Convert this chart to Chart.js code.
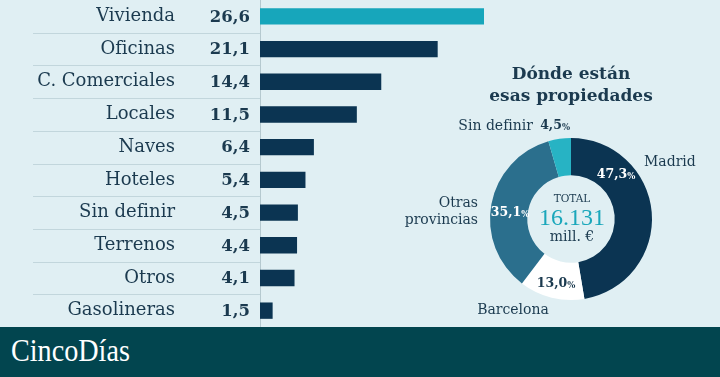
<!DOCTYPE html>
<html lang="es">
<head>
<meta charset="utf-8">
<script src="https://cdn.jsdelivr.net/npm/chart.js@4.4.1/dist/chart.umd.min.js"></script>
<style>
  html, body { margin: 0; padding: 0; }
  body { width: 720px; height: 377px; background: #e0eff3; position: relative; overflow: hidden; }
  #barras { position: absolute; left: 0; top: 0; }
  #tarta { position: absolute; left: 380px; top: 50px; }
  #pie { position: absolute; left: 0; top: 327px; width: 720px; height: 50px; background: #02454f; }
  #pie span { position: absolute; left: 11px; top: 5px; font-family: "Liberation Serif", serif; font-size: 32px;
              color: #fff; transform: scaleX(0.88); transform-origin: left center; white-space: nowrap; }
</style>
</head>
<body>
<canvas id="barras" width="500" height="327"></canvas>
<canvas id="tarta" width="340" height="277"></canvas>
<div id="pie"><span>CincoDías</span></div>
<script>
// Inversión por tipo de activo (millones de euros / %)
const categorias = ['Vivienda', 'Oficinas', 'C. Comerciales', 'Locales', 'Naves', 'Hoteles',
                    'Sin definir', 'Terrenos', 'Otros', 'Gasolineras'];
const valores = [26.6, 21.1, 14.4, 11.5, 6.4, 5.4, 4.5, 4.4, 4.1, 1.5];

// Reparto geográfico
const zonas = ['Madrid', 'Barcelona', 'Otras provincias', 'Sin definir'];
const porcentajes = [47.3, 13.0, 35.1, 4.5];
const total = '16.131';

const oscuro = '#1b3a4f';
const coma = v => v.toFixed(1).replace('.', ',');

Chart.defaults.font.family = '"DejaVu Serif", serif';
Chart.defaults.color = oscuro;

// lineas separadoras entre filas
const separadores = {
  id: 'separadores',
  beforeDatasetsDraw(chart) {
    const y = chart.scales.y;
    const ctx = chart.ctx;
    ctx.save();
    ctx.strokeStyle = '#c2d6dc';
    ctx.lineWidth = 1;
    for (let i = 0; i < categorias.length - 1; i++) {
      const py = Math.round((y.getPixelForValue(i) + y.getPixelForValue(i + 1)) / 2) + 0.5;
      ctx.beginPath();
      ctx.moveTo(33, py);
      ctx.lineTo(y.right, py);
      ctx.stroke();
    }
    ctx.restore();
  }
};

// cifras en negrita junto al eje
const cifras = {
  id: 'cifras',
  afterDatasetsDraw(chart) {
    const ctx = chart.ctx;
    const y = chart.scales.y;
    ctx.save();
    ctx.font = 'bold 16.5px "DejaVu Serif"';
    ctx.fillStyle = oscuro;
    ctx.textAlign = 'right';
    ctx.textBaseline = 'middle';
    chart.getDatasetMeta(0).data.forEach((bar, i) => {
      ctx.fillText(coma(valores[i]), y.right - 10, bar.y + 1);
    });
    ctx.restore();
  }
};

new Chart(document.getElementById('barras'), {
  type: 'bar',
  data: {
    labels: categorias,
    datasets: [{
      data: valores,
      backgroundColor: valores.map((v, i) => i === 0 ? '#17a6bb' : '#0b3452'),
      borderWidth: 0,
      barPercentage: 0.5,
      categoryPercentage: 1
    }]
  },
  options: {
    responsive: false,
    animation: false,
    indexAxis: 'y',
    layout: { padding: 0 },
    plugins: { legend: { display: false }, tooltip: { enabled: false } },
    scales: {
      x: { display: false, min: 0, max: 28.5 },
      y: {
        afterFit(s) { s.width = 260; s.paddingTop = 0; s.paddingBottom = 0; },
        grid: { display: false, drawTicks: false },
        border: { display: true, color: '#b5c9cf', width: 1 },
        ticks: { autoSkip: false, padding: 85, color: oscuro, font: { size: 18 } }
      }
    }
  },
  plugins: [separadores, cifras]
});

// textos del donut
const textosDonut = {
  id: 'textosDonut',
  afterDraw(chart) {
    const ctx = chart.ctx;
    const arc = chart.getDatasetMeta(0).data[0];
    const cx = arc.x, cy = arc.y;
    ctx.save();
    ctx.textBaseline = 'middle';
    ctx.fillStyle = oscuro;

    // titulo
    ctx.textAlign = 'center';
    ctx.font = 'bold 17px "DejaVu Serif"';
    ctx.fillText('Dónde están', cx, cy - 144);
    ctx.fillText('esas propiedades', cx, cy - 122);

    // porcentaje con % pequeño
    const pct = (v, x, y, color, align) => {
      const num = coma(v);
      ctx.font = 'bold 12.5px "DejaVu Serif"';
      const w1 = ctx.measureText(num).width;
      ctx.font = 'bold 8.5px "DejaVu Serif"';
      const w2 = ctx.measureText('%').width;
      let x0 = align === 'right' ? x - w1 - w2 : x - (w1 + w2) / 2;
      ctx.fillStyle = color;
      ctx.textAlign = 'left';
      ctx.font = 'bold 12.5px "DejaVu Serif"';
      ctx.fillText(num, x0, y);
      ctx.font = 'bold 8.5px "DejaVu Serif"';
      ctx.fillText('%', x0 + w1, y + 1.5);
    };

    pct(porcentajes[0], cx + 45, cy - 44, '#ffffff');
    pct(porcentajes[2], cx - 61, cy - 6, '#ffffff');
    pct(porcentajes[1], cx - 15, cy + 65, oscuro);
    pct(porcentajes[3], cx - 1, cy - 93, oscuro, 'right');

    // etiquetas exteriores
    ctx.fillStyle = oscuro;
    ctx.font = '14px "DejaVu Serif"';
    ctx.textAlign = 'right';
    ctx.fillText('Sin definir', cx - 38, cy - 93);
    ctx.textAlign = 'left';
    ctx.fillText(zonas[0], cx + 73, cy - 57);
    ctx.textAlign = 'right';
    ctx.fillText('Otras', cx - 93, cy - 16);
    ctx.fillText('provincias', cx - 93, cy + 1);
    ctx.textAlign = 'center';
    ctx.fillText(zonas[1], cx - 58, cy + 91);

    // centro
    ctx.font = '10.5px "DejaVu Serif"';
    ctx.fillText('TOTAL', cx + 1, cy - 20);
    ctx.fillStyle = '#1aa7bb';
    ctx.font = '24px "Liberation Serif"';
    ctx.fillText(total, cx + 1, cy);
    ctx.fillStyle = oscuro;
    ctx.font = '14px "DejaVu Serif"';
    ctx.fillText('mill. €', cx + 1, cy + 18);
    ctx.restore();
  }
};

new Chart(document.getElementById('tarta'), {
  type: 'doughnut',
  data: {
    labels: zonas,
    datasets: [{
      data: porcentajes,
      backgroundColor: ['#0b3452', '#ffffff', '#2b6f8d', '#27b3c4'],
      borderWidth: 0,
      hoverOffset: 0
    }]
  },
  options: {
    responsive: false,
    animation: false,
    cutout: '54%',
    layout: { padding: { left: 110, right: 68, top: 88, bottom: 27 } },
    plugins: { legend: { display: false }, tooltip: { enabled: false } }
  },
  plugins: [textosDonut]
});
</script>
</body>
</html>
